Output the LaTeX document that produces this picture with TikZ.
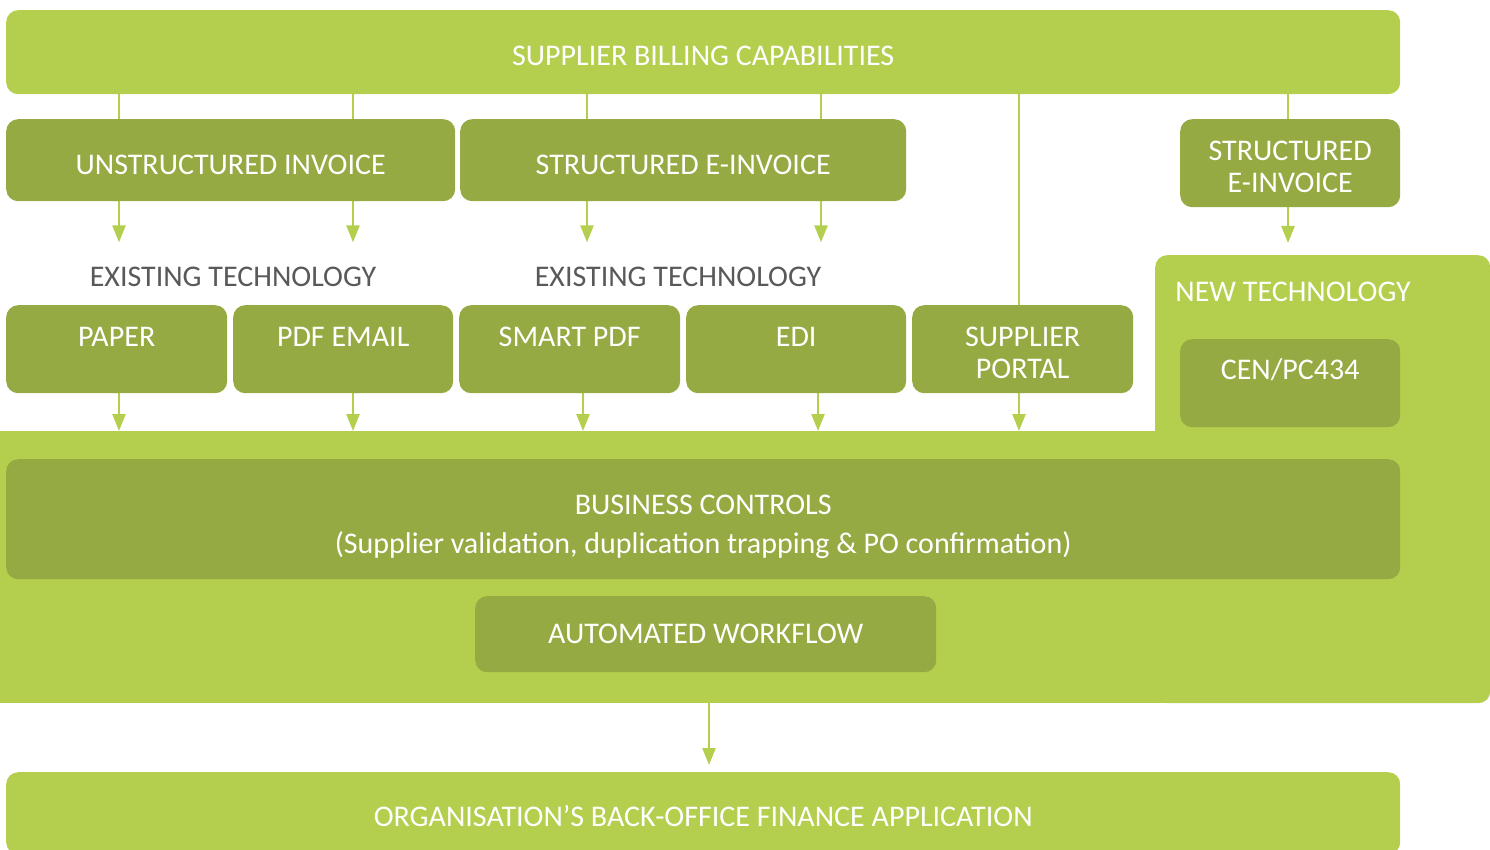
\documentclass[tikz,border=0pt]{standalone}
\usepackage{fontspec}
\setmainfont{Carlito}
\usepackage{tikz}
\usetikzlibrary{positioning,calc,arrows.meta}
\definecolor{lightgreen}{HTML}{B4CE4E}
\definecolor{darkgreen}{HTML}{95AA42}
\definecolor{greytext}{HTML}{58595B}
\newcommand{\boxfont}{\fontsize{30}{32}\selectfont}

\begin{document}
\begin{tikzpicture}[x=1pt, y=-1pt,
  lift/.style={execute at begin node={\rule{0pt}{#1}}},
  panel/.style={anchor=north west, inner sep=0pt, rounded corners=12pt, text=white, font=\boxfont, align=center},
  darkpanel/.style={panel, fill=darkgreen},
  lightpanel/.style={panel, fill=lightgreen},
  caption/.style={inner sep=0pt, text=white, font=\boxfont, anchor=base},
  heading/.style={inner sep=0pt, text=greytext, font=\boxfont, anchor=base},
  link/.style={draw=lightgreen, line width=2.5pt},
  arrow/.style={link, -{Triangle[width=13pt,length=17pt]}}]
  \clip (0,0) rectangle (1490,850);

  % columns of the connectors
  \coordinate (c1) at (119,0);
  \coordinate (c2) at (353,0);
  \coordinate (c3) at (587,0);
  \coordinate (c4) at (821,0);
  \coordinate (c5) at (1019,0);
  \coordinate (c6) at (1288,0);
  \coordinate (c7) at (583,0);
  \coordinate (c8) at (818,0);
  \coordinate (c9) at (709,0);

  % light zones
  \node[lightpanel, sharp corners, minimum width=1480pt, minimum height=272pt] (zone) at (0,431) {};
  \node[lightpanel, minimum width=335pt, minimum height=448pt] (newtech) at (1155,255) {};

  \node[lightpanel, lift=27pt, minimum width=1394pt, minimum height=84pt] (top) at (6,10) {SUPPLIER BILLING CAPABILITIES};
  \node[darkpanel, lift=29pt, minimum width=449pt, minimum height=82pt] (unst) at (6,119) {UNSTRUCTURED INVOICE};
  \node[darkpanel, lift=29pt, minimum width=446pt, minimum height=82pt] (struct) at (460,119) {STRUCTURED E-INVOICE};
  \node[darkpanel, text height=59pt, text depth=0pt, minimum width=220pt, minimum height=88pt] (newstruct) at (1180,119) {STRUCTURED\\E-INVOICE};

  \node[heading] (exist1) at (233,287) {EXISTING TECHNOLOGY};
  \node[heading] (exist2) at (678,287) {EXISTING TECHNOLOGY};
  \node[heading, text=white] (newlabel) at (1293,301) {NEW TECHNOLOGY};

  % existing technology row
  \node[darkpanel, minimum width=221pt, minimum height=88pt] (paper) at (6,305) {};
  \node[caption] (paper-text) at ($(paper.north)+(0,41)$) {PAPER};
  \node[darkpanel, minimum width=220pt, minimum height=88pt] (pdf) at (233,305) {};
  \node[caption] (pdf-text) at ($(pdf.north)+(0,41)$) {PDF EMAIL};
  \node[darkpanel, minimum width=221pt, minimum height=88pt] (smart) at (459,305) {};
  \node[caption] (smart-text) at ($(smart.north)+(0,41)$) {SMART PDF};
  \node[darkpanel, minimum width=220pt, minimum height=88pt] (edi) at (686,305) {};
  \node[caption] (edi-text) at ($(edi.north)+(0,41)$) {EDI};
  \node[darkpanel, text height=59pt, text depth=0pt, minimum width=221pt, minimum height=88pt] (portal) at (912,305) {SUPPLIER\\PORTAL};

  \node[darkpanel, minimum width=220pt, minimum height=88pt] (cen) at (1180,339) {};
  \node[caption] (cen-text) at ($(cen.north)+(0,40)$) {CEN/PC434};

  \node[darkpanel, text height=77pt, text depth=8pt, minimum width=1394pt, minimum height=120pt] (ctrl) at (6,459)
    {BUSINESS CONTROLS\\[7pt](Supplier validation, duplication trapping \& PO confirmation)};
  \node[darkpanel, minimum width=461pt, minimum height=76pt] (flow) at (475,596) {AUTOMATED WORKFLOW};
  \node[lightpanel, lift=27pt, minimum width=1394pt, minimum height=82pt] (backoffice) at (6,772)
    {ORGANISATION’S BACK-OFFICE FINANCE APPLICATION};

  % connectors
  \foreach \c/\a in {c1/unst, c2/unst, c3/struct, c4/struct, c6/newstruct}
    \draw[link] (\c |- top.south) -- (\c |- \a.north);
  \foreach \c/\a/\h in {c1/unst/exist1, c2/unst/exist1, c3/struct/exist2, c4/struct/exist2}
    \draw[arrow, shorten >=25pt] (\c |- \a.south) -- (\c |- \h.north);
  \draw[arrow, shorten >=12pt] (c6 |- newstruct.south) -- (c6 |- newtech.north);
  \draw[link] (c5 |- top.south) -- (c5 |- portal.north);
  \foreach \c/\b in {c1/paper, c2/pdf, c7/smart, c8/edi, c5/portal}
    \draw[arrow] (\c |- \b.south) -- (\c |- zone.north);
  \draw[arrow, shorten >=7pt] (c9 |- zone.south) -- (c9 |- backoffice.north);
\end{tikzpicture}
\end{document}
